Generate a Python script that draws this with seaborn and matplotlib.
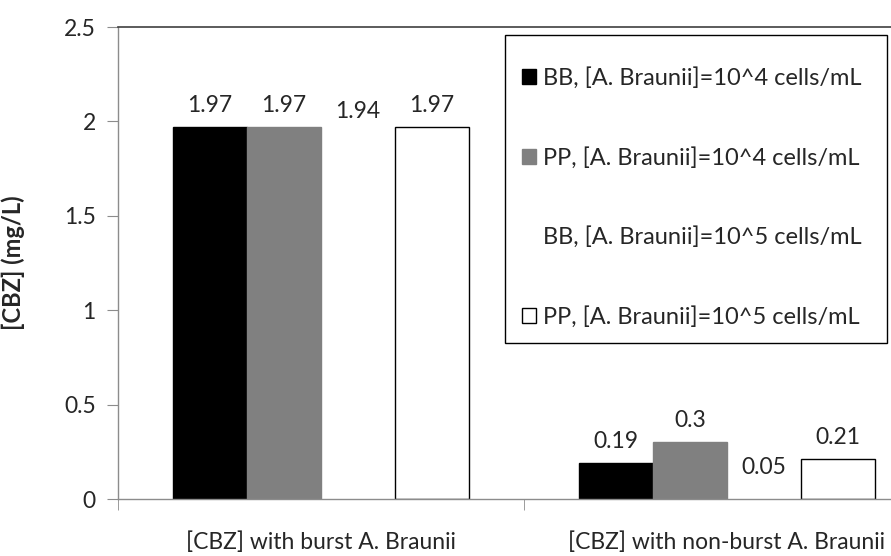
import matplotlib
matplotlib.use("Agg")
import matplotlib.pyplot as plt
from matplotlib.patches import Rectangle
import seaborn as sns
import pandas as pd

# chart values
categories = ["[CBZ] with burst A. Braunii", "[CBZ] with non-burst A. Braunii"]
series = [
    "BB, [A. Braunii]=10^4 cells/mL",
    "PP, [A. Braunii]=10^4 cells/mL",
    "BB, [A. Braunii]=10^5 cells/mL",
    "PP, [A. Braunii]=10^5 cells/mL",
]
bb_1e4 = [1.97, 0.19]
pp_1e4 = [1.97, 0.30]
bb_1e5 = [1.94, 0.05]
pp_1e5 = [1.97, 0.21]
y_ticks = [0, 0.5, 1, 1.5, 2, 2.5]

fill_colors = ["#000000", "#808080", "#ffffff", "#ffffff"]
# third series is drawn without fill or border in the original
face_colors = ["#000000", "#808080", "none", "#ffffff"]
edge_colors = ["#000000", "#808080", "none", "#000000"]

rows = []
for name, vals in zip(series, [bb_1e4, pp_1e4, bb_1e5, pp_1e5]):
    for cat, v in zip(categories, vals):
        rows.append({"category": cat, "series": name, "value": v})
df = pd.DataFrame(rows)

plt.rcParams['font.family'] = ['Lato', 'DejaVu Sans']
text_color = "#262626"
axis_gray = "#8c8c8c"
fs = 16.5

W, H = 891, 556
fig = plt.figure(figsize=(W / 100, H / 100), dpi=100)
# the original picture is cropped on the right, so the axes run past the edge
ax = fig.add_axes([118 / W, 57 / H, 812 / W, 472 / H])

sns.barplot(data=df, x="category", y="value", hue="series",
            order=categories, hue_order=series, palette=fill_colors,
            saturation=1, width=0.73, errorbar=None, ax=ax)

for cont, fc, ec in zip(ax.containers, face_colors, edge_colors):
    for patch in cont:
        patch.set_facecolor(fc)
        patch.set_edgecolor(ec)
        patch.set_linewidth(1.0)
    ax.bar_label(cont, fmt="%g", padding=8, fontsize=fs, color=text_color)

ax.set_xlim(-0.5, 1.5)
ax.set_ylim(0, 2.5)
ax.set_yticks(y_ticks)
ax.set_yticklabels([f"{t:g}" for t in y_ticks])
ax.set_xticks([-0.5, 0.5, 1.5], minor=True)

ax.tick_params(axis="y", length=8, color=axis_gray, pad=8,
               labelsize=fs, labelcolor=text_color)
ax.tick_params(axis="x", which="major", length=0, pad=23,
               labelsize=fs, labelcolor=text_color)
ax.tick_params(axis="x", which="minor", length=8, color=axis_gray)

ax.set_xlabel("")
ax.set_ylabel("[CBZ] (mg/L)", fontsize=17, fontweight="bold", color=text_color)
ax.yaxis.set_label_coords(-0.115, 0.5)

for side in ["left", "bottom"]:
    ax.spines[side].set_color(axis_gray)
    ax.spines[side].set_linewidth(1.0)
ax.spines["top"].set_color("#404040")
ax.spines["top"].set_linewidth(1.2)
ax.spines["right"].set_visible(False)

if ax.get_legend() is not None:
    ax.get_legend().remove()
leg = ax.legend(ax.containers, series, loc="upper left",
                bbox_to_anchor=(522 / W, 1 - 67 / H), bbox_transform=fig.transFigure,
                borderaxespad=0, frameon=False, fontsize=17, labelspacing=2.45,
                borderpad=0, handlelength=0.6, handleheight=0.6, handletextpad=0.3)
for t in leg.get_texts():
    t.set_color(text_color)

# legend box drawn separately so its padding can match the original
fig.patches.append(Rectangle((505 / W, 1 - 343 / H), 382 / W, 308 / H,
                             transform=fig.transFigure, facecolor="none",
                             edgecolor="#000000", linewidth=1.0, zorder=5))

fig.savefig("out.png", dpi=100)
